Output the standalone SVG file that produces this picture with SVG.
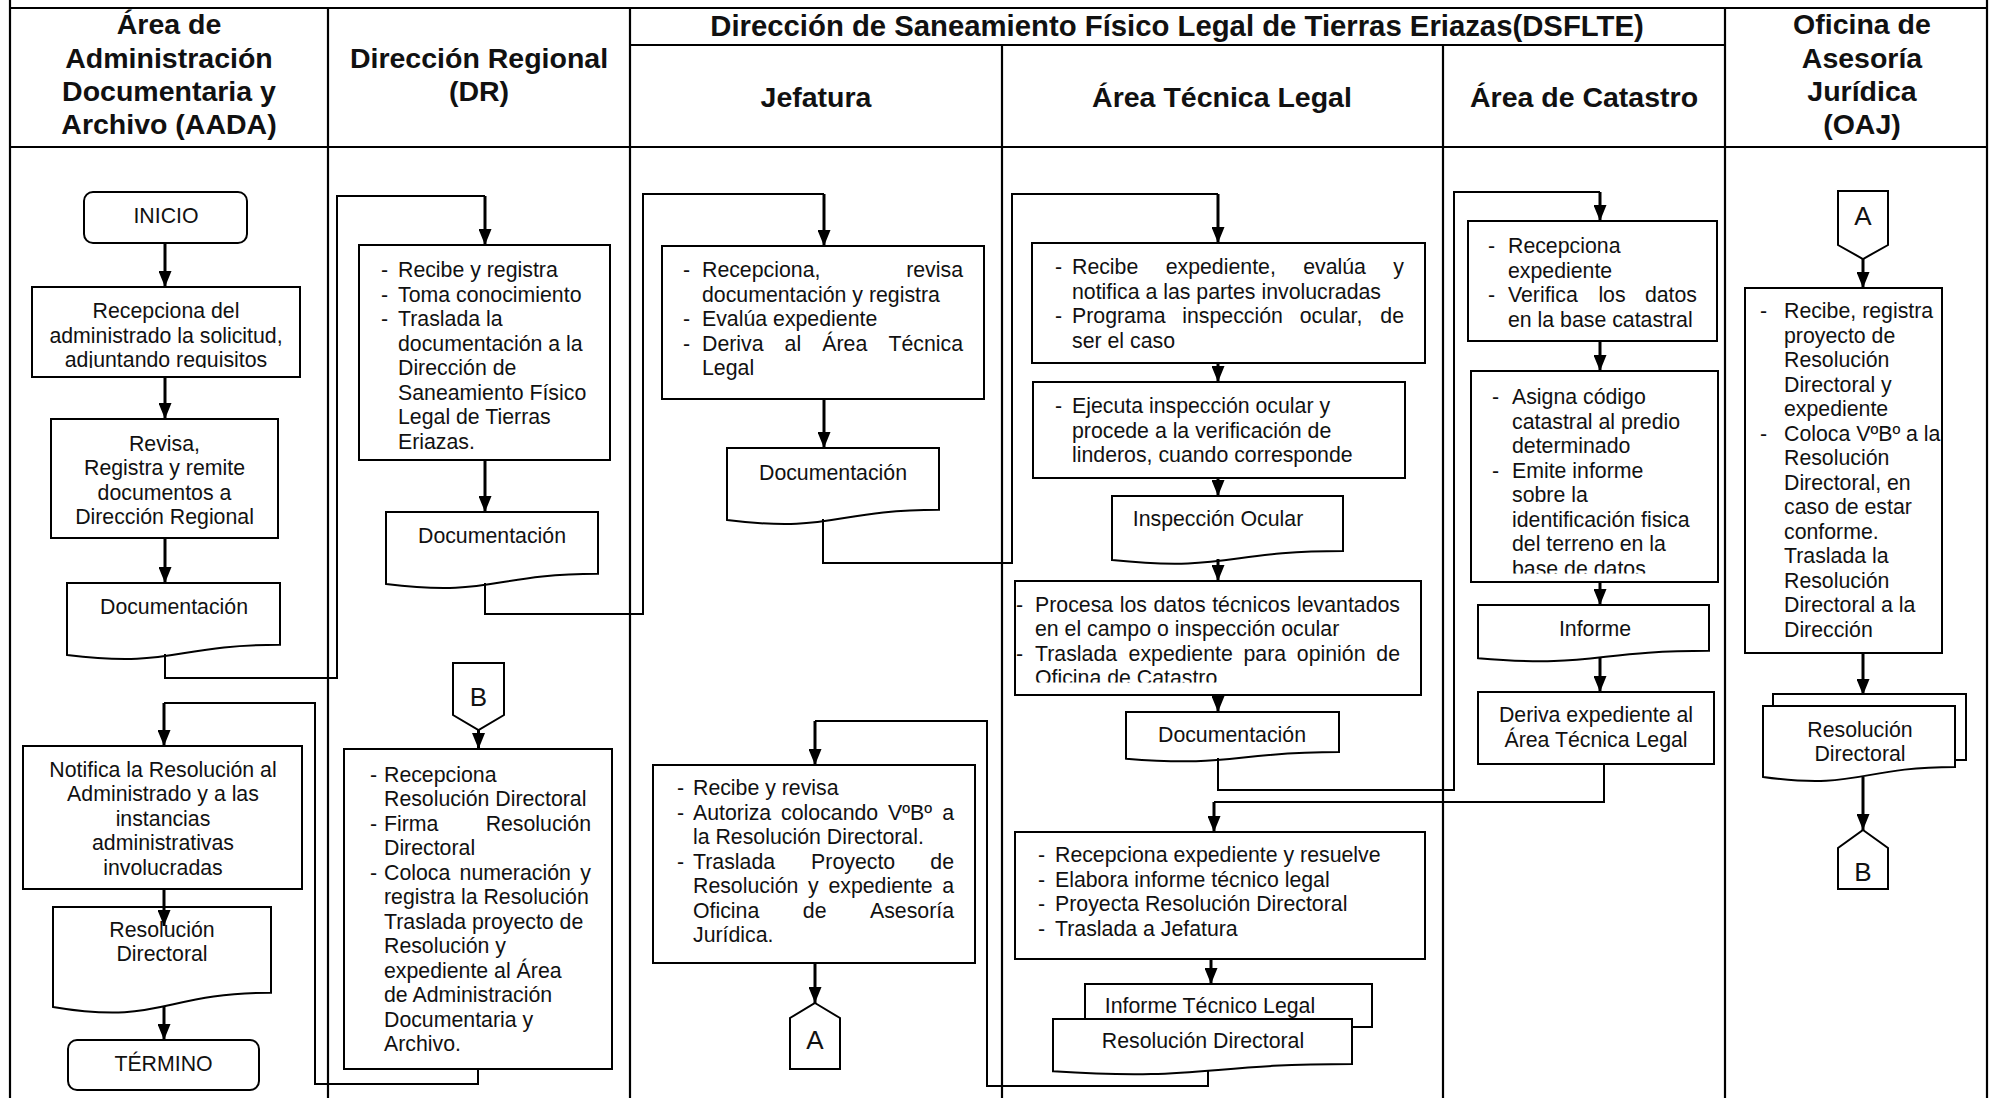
<svg xmlns="http://www.w3.org/2000/svg" width="1992" height="1098" viewBox="0 0 1992 1098">
<defs>
  <marker id="arr" markerUnits="userSpaceOnUse" markerWidth="16" markerHeight="13" refX="16" refY="6.5" orient="auto">
    <path d="M0,0 L16,6.5 L0,13 z" fill="#000"/>
  </marker>
  <clipPath id="clip-aada1"><rect x="33" y="288" width="266" height="80"/></clipPath>
  <clipPath id="clip-atl3"><rect x="1016" y="582" width="404" height="100.5"/></clipPath>
  <clipPath id="clip-cat2"><rect x="1472" y="372" width="245" height="201.5"/></clipPath>
</defs>
<style>
  .grid { stroke:#000; stroke-width:2.2; fill:none; }
  .box { fill:#fff; stroke:#000; stroke-width:2; }
  .hd { font-family:"Liberation Sans", Arial, sans-serif; font-size:28.5px; font-weight:bold; text-anchor:middle; fill:#111; }
  .title { font-size:29.3px; }
  .t { font-family:"Liberation Sans", Arial, sans-serif; font-size:21.3px; fill:#111; }
  .c { text-anchor:middle; }
  .e { text-anchor:end; }
  .lbl { font-family:"Liberation Sans", Arial, sans-serif; font-size:26px; text-anchor:middle; fill:#111; }
  .ln { stroke:#000; stroke-width:2; fill:none; }
  .ar { stroke:#000; stroke-width:3; fill:none; marker-end:url(#arr); }
</style>
<rect width="1992" height="1098" fill="#fff"/>

<!-- swimlane table -->
<g id="table">
  <path class="grid" d="M10,0 V1098 M1987,0 V1098 M10,8 H1987 M10,147 H1987 M630,45 H1725"/>
  <path class="grid" d="M328,8 V1098 M630,8 V1098 M1725,8 V1098 M1002,45 V1098 M1443,45 V1098"/>
  <text class="hd"><tspan x="169" y="34">Área de</tspan><tspan x="169" y="67.5">Administración</tspan><tspan x="169" y="101">Documentaria y</tspan><tspan x="169" y="134">Archivo (AADA)</tspan></text>
  <text class="hd"><tspan x="479" y="68">Dirección Regional</tspan><tspan x="479" y="101">(DR)</tspan></text>
  <text class="hd title" x="1177" y="36">Dirección de Saneamiento Físico Legal de Tierras Eriazas(DSFLTE)</text>
  <text class="hd" x="816" y="106.5">Jefatura</text>
  <text class="hd" x="1222" y="106.5">Área Técnica Legal</text>
  <text class="hd" x="1584" y="106.5">Área de Catastro</text>
  <text class="hd"><tspan x="1862" y="34">Oficina de</tspan><tspan x="1862" y="67.5">Asesoría</tspan><tspan x="1862" y="101">Jurídica</tspan><tspan x="1862" y="134">(OAJ)</tspan></text>
</g>

<!-- AADA lane -->
<g id="inicio">
  <rect class="box" x="84" y="192" width="163" height="51" rx="9"/>
  <text class="t c" x="166" y="223">INICIO</text>
</g>
<g id="aada-recepciona">
  <rect class="box" x="32" y="287" width="268" height="90"/>
  <text class="t c" clip-path="url(#clip-aada1)"><tspan x="166" y="318">Recepciona del</tspan><tspan x="166" y="342.5">administrado la solicitud,</tspan><tspan x="166" y="367">adjuntando requisitos</tspan></text>
</g>
<g id="aada-revisa">
  <rect class="box" x="51" y="419" width="227" height="119"/>
  <text class="t c"><tspan x="164.5" y="450.5">Revisa,</tspan><tspan x="164.5" y="475">Registra y remite</tspan><tspan x="164.5" y="499.5">documentos a</tspan><tspan x="164.5" y="524">Dirección Regional</tspan></text>
</g>
<g id="aada-doc">
  <path class="box" d="M67,583 H280 V644.8 C173.5,644.8 173.5,668.3 67,654.9 Z"/>
  <text class="t c" x="174" y="614">Documentación</text>
</g>
<g id="aada-notifica">
  <rect class="box" x="23" y="746" width="279" height="143"/>
  <text class="t c"><tspan x="163" y="776.5">Notifica la Resolución al</tspan><tspan x="163" y="801">Administrado y a las</tspan><tspan x="163" y="825.5">instancias</tspan><tspan x="163" y="850">administrativas</tspan><tspan x="163" y="874.5">involucradas</tspan></text>
</g>
<g id="aada-resolucion">
  <path class="box" d="M53,907 H271 V992.8 C162,992.8 162,1025.5 53,1006.9 Z"/>
  <text class="t c"><tspan x="162" y="936.5">Resolución</tspan><tspan x="162" y="961">Directoral</tspan></text>
</g>
<g id="termino">
  <rect class="box" x="68" y="1040" width="191" height="50" rx="9"/>
  <text class="t c" x="163.5" y="1071">TÉRMINO</text>
</g>

<!-- DR lane -->
<g id="dr-registra">
  <rect class="box" x="359" y="245" width="251" height="215"/>
  <text class="t"><tspan x="381" y="277">-</tspan><tspan x="381" y="301.5">-</tspan><tspan x="381" y="326">-</tspan></text>
  <text class="t"><tspan x="398" y="277">Recibe y registra</tspan><tspan x="398" y="301.5">Toma conocimiento</tspan><tspan x="398" y="326">Traslada la</tspan><tspan x="398" y="350.5">documentación a la</tspan><tspan x="398" y="375">Dirección de</tspan><tspan x="398" y="399.5">Saneamiento Físico</tspan><tspan x="398" y="424">Legal de Tierras</tspan><tspan x="398" y="448.5">Eriazas.</tspan></text>
</g>
<g id="dr-doc">
  <path class="box" d="M386,512 H598 V573.8 C492,573.8 492,597.3 386,583.9 Z"/>
  <text class="t c" x="492" y="543">Documentación</text>
</g>
<g id="dr-conector-b">
  <path class="box" d="M453,663 H504 V715 L478.5,730 L453,715 Z"/>
  <text class="lbl" x="478.5" y="706">B</text>
</g>
<g id="dr-firma">
  <rect class="box" x="344" y="749" width="268" height="320"/>
  <text class="t"><tspan x="370" y="781.5">-</tspan><tspan x="370" y="830.5">-</tspan><tspan x="370" y="879.5">-</tspan></text>
  <text class="t"><tspan x="384" y="781.5">Recepciona</tspan><tspan x="384" y="806">Resolución Directoral</tspan><tspan x="384" y="830.5">Firma</tspan><tspan x="384" y="855">Directoral</tspan><tspan x="384" y="879.5">Coloca</tspan><tspan x="459.6" y="879.5">numeración</tspan><tspan x="384" y="904">registra la Resolución</tspan><tspan x="384" y="928.5">Traslada proyecto de</tspan><tspan x="384" y="953">Resolución y</tspan><tspan x="384" y="977.5">expediente al  Área</tspan><tspan x="384" y="1002">de Administración</tspan><tspan x="384" y="1026.5">Documentaria y</tspan><tspan x="384" y="1051">Archivo.</tspan></text>
  <text class="t e"><tspan x="591" y="830.5">Resolución</tspan><tspan x="591" y="879.5">y</tspan></text>
</g>

<!-- Jefatura lane -->
<g id="jef-evalua">
  <rect class="box" x="662" y="246" width="322" height="153"/>
  <text class="t"><tspan x="683" y="277">-</tspan><tspan x="683" y="326">-</tspan><tspan x="683" y="350.5">-</tspan></text>
  <text class="t"><tspan x="702" y="277">Recepciona,</tspan><tspan x="702" y="301.5">documentación y registra</tspan><tspan x="702" y="326">Evalúa expediente</tspan><tspan x="702" y="350.5">Deriva</tspan><tspan x="784.6" y="350.5">al</tspan><tspan x="822.3" y="350.5">Área</tspan><tspan x="702" y="375">Legal</tspan></text>
  <text class="t e"><tspan x="963" y="277">revisa</tspan><tspan x="963" y="350.5">Técnica</tspan></text>
</g>
<g id="jef-doc">
  <path class="box" d="M727,448 H939 V509.8 C833,509.8 833,533.3 727,519.9 Z"/>
  <text class="t c" x="833" y="480">Documentación</text>
</g>
<g id="jef-autoriza">
  <rect class="box" x="653" y="765" width="322" height="198"/>
  <text class="t"><tspan x="677" y="795">-</tspan><tspan x="677" y="819.5">-</tspan><tspan x="677" y="868.5">-</tspan></text>
  <text class="t"><tspan x="693" y="795">Recibe y revisa</tspan><tspan x="693" y="819.5">Autoriza</tspan><tspan x="781.1" y="819.5">colocando</tspan><tspan x="888.1" y="819.5">VºBº</tspan><tspan x="693" y="844">la Resolución Directoral.</tspan><tspan x="693" y="868.5">Traslada</tspan><tspan x="811.1" y="868.5">Proyecto</tspan><tspan x="693" y="893">Resolución</tspan><tspan x="808" y="893">y</tspan><tspan x="828.4" y="893">expediente</tspan><tspan x="693" y="917.5">Oficina</tspan><tspan x="802.8" y="917.5">de</tspan><tspan x="693" y="942">Jurídica.</tspan></text>
  <text class="t e"><tspan x="954" y="819.5">a</tspan><tspan x="954" y="868.5">de</tspan><tspan x="954" y="893">a</tspan><tspan x="954" y="917.5">Asesoría</tspan></text>
</g>
<g id="jef-conector-a">
  <path class="box" d="M815,1003 L840,1018 V1069 H790 V1018 Z"/>
  <text class="lbl" x="815" y="1049">A</text>
</g>

<!-- Area Tecnica Legal lane -->
<g id="atl-recibe">
  <rect class="box" x="1032" y="243" width="393" height="120"/>
  <text class="t"><tspan x="1055" y="274">-</tspan><tspan x="1055" y="323">-</tspan></text>
  <text class="t"><tspan x="1072" y="274">Recibe</tspan><tspan x="1165.7" y="274">expediente,</tspan><tspan x="1303.2" y="274">evalúa</tspan><tspan x="1072" y="298.5">notifica a las partes involucradas</tspan><tspan x="1072" y="323">Programa</tspan><tspan x="1182.3" y="323">inspección</tspan><tspan x="1299.7" y="323">ocular,</tspan><tspan x="1072" y="347.5">ser el caso</tspan></text>
  <text class="t e"><tspan x="1404" y="274">y</tspan><tspan x="1404" y="323">de</tspan></text>
</g>
<g id="atl-ejecuta">
  <rect class="box" x="1033" y="382" width="372" height="96"/>
  <text class="t" x="1055" y="413">-</text>
  <text class="t"><tspan x="1072" y="413">Ejecuta inspección ocular y</tspan><tspan x="1072" y="437.5">procede a la  verificación de</tspan><tspan x="1072" y="462">linderos, cuando corresponde</tspan></text>
</g>
<g id="atl-inspeccion-doc">
  <path class="box" d="M1112,496 H1343 V550.9 C1227.5,550.9 1227.5,571.9 1112,560 Z"/>
  <text class="t c" x="1218" y="526">Inspección Ocular</text>
</g>
<g id="atl-procesa">
  <rect class="box" x="1015" y="581" width="406" height="114"/>
  <text class="t"><tspan x="1016" y="611.5">-</tspan><tspan x="1016" y="660.5">-</tspan></text>
  <text class="t" clip-path="url(#clip-atl3)"><tspan x="1035" y="611.5">Procesa</tspan><tspan x="1119.7" y="611.5">los</tspan><tspan x="1153.5" y="611.5">datos</tspan><tspan x="1212.2" y="611.5">técnicos</tspan><tspan x="1035" y="636">en el campo o inspección ocular</tspan><tspan x="1035" y="660.5">Traslada</tspan><tspan x="1128.6" y="660.5">expediente</tspan><tspan x="1243.5" y="660.5">para</tspan><tspan x="1296.8" y="660.5">opinión</tspan><tspan x="1035" y="685">Oficina de Catastro</tspan></text>
  <text class="t e"><tspan x="1400" y="611.5">levantados</tspan><tspan x="1400" y="660.5">de</tspan></text>
</g>
<g id="atl-doc">
  <path class="box" d="M1126,712 H1339 V752.1 C1232.5,752.1 1232.5,767.4 1126,758.7 Z"/>
  <text class="t c" x="1232" y="742">Documentación</text>
</g>
<g id="atl-resuelve">
  <rect class="box" x="1015" y="832" width="410" height="127"/>
  <text class="t"><tspan x="1038" y="862">-</tspan><tspan x="1038" y="886.5">-</tspan><tspan x="1038" y="911">-</tspan><tspan x="1038" y="935.5">-</tspan></text>
  <text class="t"><tspan x="1055" y="862">Recepciona expediente y resuelve</tspan><tspan x="1055" y="886.5">Elabora informe técnico legal</tspan><tspan x="1055" y="911">Proyecta Resolución Directoral</tspan><tspan x="1055" y="935.5">Traslada a Jefatura</tspan></text>
</g>
<g id="atl-informe-resolucion">
  <rect class="box" x="1085" y="984" width="287" height="43"/>
  <text class="t c" x="1210" y="1013">Informe Técnico Legal</text>
  <path class="box" d="M1053,1019 H1352 V1063.9 C1202.5,1063.9 1202.5,1081 1053,1071.3 Z"/>
  <text class="t c" x="1203" y="1048">Resolución Directoral</text>
</g>

<!-- Area de Catastro lane -->
<g id="cat-verifica">
  <rect class="box" x="1468" y="221" width="249" height="120"/>
  <text class="t"><tspan x="1488" y="253">-</tspan><tspan x="1488" y="302">-</tspan></text>
  <text class="t"><tspan x="1508" y="253">Recepciona</tspan><tspan x="1508" y="277.5">expediente</tspan><tspan x="1508" y="302">Verifica</tspan><tspan x="1598.4" y="302">los</tspan><tspan x="1508" y="326.5">en la base catastral</tspan></text>
  <text class="t e" x="1697" y="302">datos</text>
</g>
<g id="cat-asigna">
  <rect class="box" x="1471" y="371" width="247" height="211"/>
  <text class="t"><tspan x="1492" y="404">-</tspan><tspan x="1492" y="477.5">-</tspan></text>
  <text class="t" clip-path="url(#clip-cat2)"><tspan x="1512" y="404">Asigna código</tspan><tspan x="1512" y="428.5">catastral al predio</tspan><tspan x="1512" y="453">determinado</tspan><tspan x="1512" y="477.5">Emite informe</tspan><tspan x="1512" y="502">sobre la</tspan><tspan x="1512" y="526.5">identificación fisica</tspan><tspan x="1512" y="551">del terreno en la</tspan><tspan x="1512" y="575.5">base de datos</tspan></text>
</g>
<g id="cat-informe">
  <path class="box" d="M1478,605 H1709 V650.7 C1593.5,650.7 1593.5,668.1 1478,658.2 Z"/>
  <text class="t c" x="1595" y="635.5">Informe</text>
</g>
<g id="cat-deriva">
  <rect class="box" x="1478" y="692" width="236" height="72"/>
  <text class="t c"><tspan x="1596" y="722">Deriva expediente al</tspan><tspan x="1596" y="746.5">Área Técnica Legal</tspan></text>
</g>

<!-- OAJ lane -->
<g id="oaj-conector-a">
  <path class="box" d="M1838,191 H1888 V245 L1863,259 L1838,245 Z"/>
  <text class="lbl" x="1863" y="225">A</text>
</g>
<g id="oaj-revisa">
  <rect class="box" x="1745" y="288" width="197" height="365"/>
  <text class="t"><tspan x="1760" y="318">-</tspan><tspan x="1760" y="440.5">-</tspan></text>
  <text class="t"><tspan x="1784" y="318">Recibe, registra</tspan><tspan x="1784" y="342.5">proyecto de</tspan><tspan x="1784" y="367">Resolución</tspan><tspan x="1784" y="391.5">Directoral y</tspan><tspan x="1784" y="416">expediente</tspan><tspan x="1784" y="440.5">Coloca VºBº a la</tspan><tspan x="1784" y="465">Resolución</tspan><tspan x="1784" y="489.5">Directoral, en</tspan><tspan x="1784" y="514">caso de estar</tspan><tspan x="1784" y="538.5">conforme.</tspan><tspan x="1784" y="563">Traslada la</tspan><tspan x="1784" y="587.5">Resolución</tspan><tspan x="1784" y="612">Directoral a la</tspan><tspan x="1784" y="636.5">Dirección</tspan></text>
</g>
<g id="oaj-resolucion">
  <rect class="box" x="1773" y="694" width="193" height="66"/>
  <path class="box" d="M1763,706 H1955 V767 C1859,767 1859,790.2 1763,777 Z"/>
  <text class="t c"><tspan x="1860" y="737">Resolución</tspan><tspan x="1860" y="761">Directoral</tspan></text>
</g>
<g id="oaj-conector-b">
  <path class="box" d="M1863,830 L1888,848 V889 H1838 V848 Z"/>
  <text class="lbl" x="1863" y="881">B</text>
</g>

<!-- connectors -->
<g id="connectors">
  <path class="ar" d="M165,243 V287"/>
  <path class="ar" d="M165,377 V419"/>
  <path class="ar" d="M165,538 V583"/>
  <path class="ln" d="M165,654 V678 H337 V196 H485"/>
  <path class="ar" d="M485,196 V245"/>
  <path class="ar" d="M485,460 V512"/>
  <path class="ln" d="M485,583 V614 H643 V194 H824"/>
  <path class="ar" d="M824,194 V246"/>
  <path class="ar" d="M824,399 V448"/>
  <path class="ln" d="M823,519 V563 H1012 V194 H1218"/>
  <path class="ar" d="M1218,194 V243"/>
  <path class="ar" d="M1218,363 V382"/>
  <path class="ar" d="M1218,478 V496"/>
  <path class="ar" d="M1218,559 V581"/>
  <path class="ar" d="M1218,695 V712"/>
  <path class="ln" d="M1218,758 V790 H1454 V192 H1600"/>
  <path class="ar" d="M1600,192 V221"/>
  <path class="ar" d="M1600,341 V371"/>
  <path class="ar" d="M1600,582 V605"/>
  <path class="ar" d="M1600,657 V692"/>
  <path class="ln" d="M1604,764 V802 H1214"/>
  <path class="ar" d="M1214,802 V832"/>
  <path class="ar" d="M1211,959 V984"/>
  <path class="ln" d="M1208,1070 V1086 H987 V721 H815"/>
  <path class="ar" d="M815,721 V765"/>
  <path class="ar" d="M815,963 V1003"/>
  <path class="ar" d="M1863,259 V288"/>
  <path class="ar" d="M1863,653 V695"/>
  <path class="ar" d="M1863,777 V830"/>
  <path class="ar" d="M478.5,730 V749"/>
  <path class="ln" d="M478,1069 V1084 H315 V703 H164"/>
  <path class="ar" d="M164,703 V746"/>
  <path class="ar" d="M164,889 V926"/>
  <path class="ar" d="M164,1006 V1040"/>
</g>
</svg>
